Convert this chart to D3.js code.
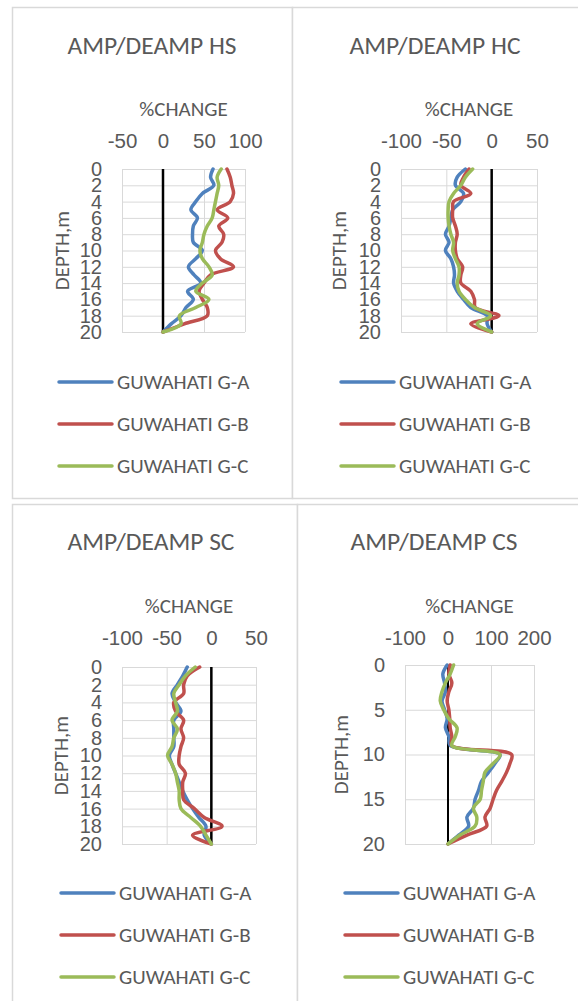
<!DOCTYPE html>
<html>
<head>
<meta charset="utf-8">
<script src="https://cdn.jsdelivr.net/npm/d3@7"></script>
<style>
  body { margin: 0; background: #fff; }
  svg { display: block; font-family: Carlito, Lato, "Open Sans", sans-serif; }
</style>
</head>
<body>
<svg id="chart" width="578" height="1001"></svg>
<script>
// depth in metres, one point per metre
const depths = d3.range(0, 21);

const seriesNames = ["GUWAHATI G-A", "GUWAHATI G-B", "GUWAHATI G-C"];
const seriesColors = ["#4F81BD", "#C0504D", "#9BBB59"];

// AMP/DEAMP HS (% change)
const hsA = [61, 58, 62, 48, 40, 34, 42, 37, 36, 37, 48, 40, 31, 38, 46, 30, 37, 28, 22, 10, 0];
const hsB = [78, 82, 84, 86, 82, 66, 79, 68, 74, 72, 64, 70, 86, 58, 50, 44, 48, 54, 54, 26, 0];
const hsC = [71, 66, 68, 66, 64, 62, 60, 54, 50, 48, 45, 48, 56, 60, 48, 40, 56, 40, 20, 22, 0];

// AMP/DEAMP HC
const hcA = [-29, -38, -40, -31, -34, -43, -45, -47, -51, -47, -51, -45, -42, -41, -42, -38, -31, -23, -5, -5, 0];
const hcB = [-25, -31, -34, -23, -42, -43, -43, -40, -38, -40, -40, -38, -32, -34, -34, -23, -19, -18, 8, -23, 0];
const hcC = [-21, -29, -34, -42, -47, -48, -48, -47, -45, -42, -43, -40, -36, -36, -38, -36, -29, -19, -1, -16, 0];

// AMP/DEAMP SC
const scA = [-27, -32, -38, -44, -40, -34, -42, -42, -42, -42, -47, -44, -40, -36, -32, -27, -21, -14, -6, -8, 0];
const scB = [-13, -27, -31, -31, -42, -40, -31, -34, -31, -34, -36, -36, -29, -32, -32, -31, -19, -8, 12, -21, 0];
const scC = [-18, -29, -36, -42, -40, -38, -44, -38, -42, -44, -49, -44, -40, -38, -36, -36, -34, -23, -12, -6, 0];

// AMP/DEAMP CS
const csA = [-2, -12, -8, -6, -14, -8, -2, -6, 2, 5, 121, 109, 94, 78, 71, 63, 59, 44, 48, 25, 0];
const csB = [5, 2, 9, 2, -2, 2, 4, 5, 9, 9, 148, 144, 136, 125, 113, 105, 98, 86, 90, 44, 0];
const csC = [13, 5, -6, -14, -18, -10, 2, 21, 17, 9, 121, 105, 86, 82, 78, 75, 59, 67, 63, 28, 0];

// tick labels
const xTicks50 = [-50, 0, 50, 100];
const xTicks100 = [-100, -50, 0, 50];
const xTicksCS = [-100, 0, 100, 200];
const yTicks2 = d3.range(0, 21, 2);
const yTicks5 = [0, 5, 10, 15, 20];

const panels = [
  { title: "AMP/DEAMP HS", box: [12, 7, 292, 498], plot: { left: 122, right: 245, top: 169, bottom: 332 },
    xTicks: xTicks50, yTicks: yTicks2, data: [hsA, hsB, hsC], titleX: 152, titleY: 45,
    tickY: 148, capY: 109, depthX: 62, legendX: 59, legendY: 382, zeroW: 2.5 },
  { title: "AMP/DEAMP HC", box: [292, 7, 580, 498], plot: { left: 401, right: 537, top: 169, bottom: 332 },
    xTicks: xTicks100, yTicks: yTicks2, data: [hcA, hcB, hcC], titleX: 435, titleY: 45,
    tickY: 148, capY: 109, depthX: 339, legendX: 341, legendY: 382, zeroW: 2.5 },
  { title: "AMP/DEAMP SC", box: [12, 504, 297, 1010], plot: { left: 122, right: 256, top: 667, bottom: 844 },
    xTicks: xTicks100, yTicks: yTicks2, data: [scA, scB, scC], titleX: 151, titleY: 541,
    tickY: 645, capY: 606, depthX: 61, legendX: 61, legendY: 893, zeroW: 2.5 },
  { title: "AMP/DEAMP CS", box: [297, 504, 580, 1010], plot: { left: 405, right: 534, top: 665, bottom: 844 },
    xTicks: xTicksCS, yTicks: yTicks5, data: [csA, csB, csC], titleX: 434, titleY: 541,
    tickY: 645, capY: 606, depthX: 341, legendX: 345, legendY: 893, zeroW: 2 }
];

const svg = d3.select("#chart");
const textColor = "#595959";
const gridColor = "#D9D9D9";

panels.forEach(p => {
  const g = svg.append("g");
  const [bx0, by0, bx1, by1] = p.box;

  g.append("rect")
    .attr("x", bx0 + 0.5).attr("y", by0 + 0.5)
    .attr("width", bx1 - bx0).attr("height", by1 - by0)
    .attr("fill", "#fff").attr("stroke", gridColor).attr("stroke-width", 1.5);

  const x = d3.scaleLinear()
    .domain(d3.extent(p.xTicks))
    .range([p.plot.left, p.plot.right]);
  const y = d3.scaleLinear()
    .domain([0, 20])
    .range([p.plot.top, p.plot.bottom]);

  // gridlines
  const vgrid = g.append("g")
    .attr("transform", `translate(0,${p.plot.top})`)
    .call(d3.axisTop(x).tickValues(p.xTicks).tickSize(-(p.plot.bottom - p.plot.top)).tickFormat(""));
  const hgrid = g.append("g")
    .attr("transform", `translate(${p.plot.left},0)`)
    .call(d3.axisLeft(y).tickValues(p.yTicks).tickSize(-(p.plot.right - p.plot.left)).tickFormat(""));
  [vgrid, hgrid].forEach(a => {
    a.select(".domain").remove();
    a.selectAll("line").attr("stroke", gridColor).attr("stroke-width", 1);
  });

  // tick labels
  const xa = g.append("g")
    .attr("transform", `translate(0,${p.tickY})`)
    .call(d3.axisTop(x).tickValues(p.xTicks).tickSize(0).tickPadding(0).tickFormat(d => String(d)));
  const ya = g.append("g")
    .attr("transform", `translate(${p.plot.left},0)`)
    .call(d3.axisLeft(y).tickValues(p.yTicks).tickSize(0).tickPadding(20).tickFormat(d => String(d)));
  [xa, ya].forEach(a => {
    a.select(".domain").remove();
    a.selectAll("text")
      .attr("fill", textColor)
      .style("font-family", null);
  });
  xa.selectAll("text").style("font-size", "20.5px");
  ya.selectAll("text").style("font-size", "20px");

  // zero axis
  g.append("line")
    .attr("x1", x(0)).attr("x2", x(0))
    .attr("y1", y(0)).attr("y2", y(20))
    .attr("stroke", "#000").attr("stroke-width", p.zeroW);

  // series
  const line = d3.line()
    .x(d => x(d[1]))
    .y(d => y(d[0]))
    .curve(d3.curveCatmullRom.alpha(0.5));

  p.data.forEach((vals, i) => {
    g.append("path")
      .datum(depths.map((dep, k) => [dep, vals[k]]))
      .attr("d", line)
      .attr("fill", "none")
      .attr("stroke", seriesColors[i])
      .attr("stroke-width", 3.5)
      .attr("stroke-linejoin", "round")
      .attr("stroke-linecap", "round");
  });

  // titles
  g.append("text")
    .attr("x", p.titleX).attr("y", p.titleY)
    .attr("dy", "0.35em")
    .attr("text-anchor", "middle")
    .attr("fill", textColor)
    .style("font-size", "25.5px")
    .text(p.title);

  g.append("text")
    .attr("x", (p.plot.left + p.plot.right) / 2).attr("y", p.capY)
    .attr("dy", "0.35em")
    .attr("text-anchor", "middle")
    .attr("fill", textColor)
    .style("font-size", "21px")
    .text("%CHANGE");

  g.append("text")
    .attr("transform", `translate(${p.depthX},${(p.plot.top + p.plot.bottom) / 2}) rotate(-90)`)
    .attr("dy", "0.35em")
    .attr("text-anchor", "middle")
    .attr("fill", textColor)
    .style("font-size", "21px")
    .text("DEPTH,m");

  // legend
  seriesNames.forEach((name, i) => {
    const ly = p.legendY + i * 42;
    g.append("line")
      .attr("x1", p.legendX).attr("x2", p.legendX + 53)
      .attr("y1", ly).attr("y2", ly)
      .attr("stroke", seriesColors[i])
      .attr("stroke-width", 3.5)
      .attr("stroke-linecap", "round");
    g.append("text")
      .attr("x", p.legendX + 58).attr("y", ly)
      .attr("dy", "0.35em")
      .attr("fill", textColor)
      .style("font-size", "21px")
      .text(name);
  });
});
</script>
</body>
</html>
